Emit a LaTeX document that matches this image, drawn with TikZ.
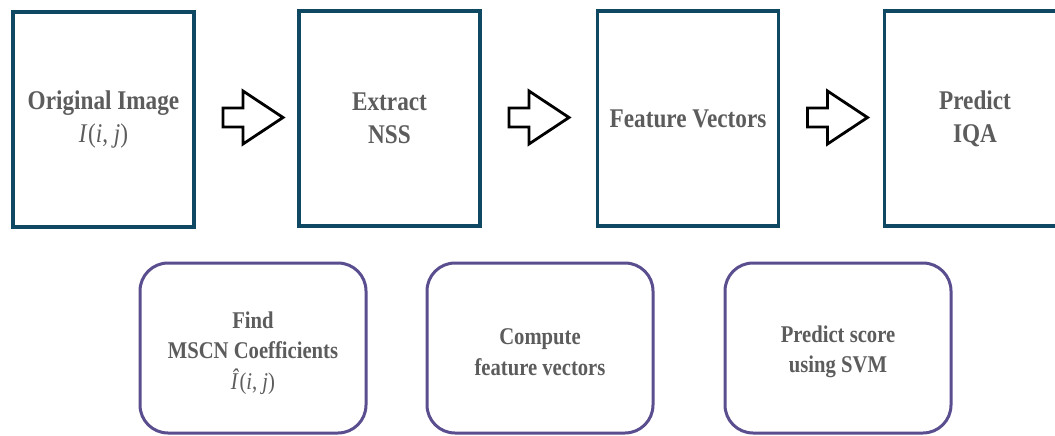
\documentclass[tikz,border=0pt]{standalone}
\usepackage{fontspec}
\newfontfamily\lblfont[FakeStretch=0.86]{Liberation Serif}
\definecolor{topc}{HTML}{0F4863}
\definecolor{botc}{HTML}{5A4E8F}
\definecolor{txt}{HTML}{5C5C5C}
\tikzset{
  topbox/.style={draw=topc, line width=3.8pt, minimum width=181pt, minimum height=215pt, inner sep=0pt,
    align=center, text=txt, font=\lblfont\fontsize{27}{33}\selectfont\bfseries},
  botbox/.style={draw=botc, line width=3pt, rounded corners=28pt, minimum width=226pt, minimum height=170pt, inner sep=0pt},
  bottext/.style={align=center, text=txt, inner sep=0pt, font=\lblfont\fontsize{24}{30.5}\selectfont\bfseries},
  blockarrow/.pic={\draw[line width=2.8pt, fill=white, line join=miter]
    (0,-9.5) -- (20,-9.5) -- (20,-26.5) -- (60,0) -- (20,26.5) -- (20,9.5) -- (0,9.5) -- cycle;}
}
\newcommand{\mth}[1]{{\mdseries #1}}
\begin{document}
\begin{tikzpicture}[x=1pt,y=-1pt]
\useasboundingbox[fill=white] (0,0) rectangle (1055,436);
\node[topbox] (b1) at (103.5,119.5) {Original Image\\\mth{\textit{I}\kern0.5pt(\textit{i}, \textit{j})}};
\node[topbox] (b2) at (389.5,118.5) {Extract\\NSS};
\node[topbox] (b3) at (688,118.5) {Feature Vectors};
\node[topbox] (b4) at (975,118.5) {Predict\\IQA};
\pic at (223,117.5) {blockarrow};
\pic at (509,117.5) {blockarrow};
\pic at (807.5,117.5) {blockarrow};
\node[botbox] (c1) at (253,348) {};
\node[botbox] (c2) at (540,348) {};
\node[botbox] (c3) at (838,348) {};
\node[bottext] (t1) at ([yshift=-5pt]c1.center) {Find\\MSCN Coefficients\\\mth{\textit{Î}\kern0.5pt(\textit{i}, \textit{j})}};
\node[bottext] (t2) at ([yshift=-4pt]c2.center) {Compute\\feature vectors};
\node[bottext] (t3) at ([yshift=-4pt]c3.center) {Predict score\\using SVM};
\end{tikzpicture}
\end{document}
